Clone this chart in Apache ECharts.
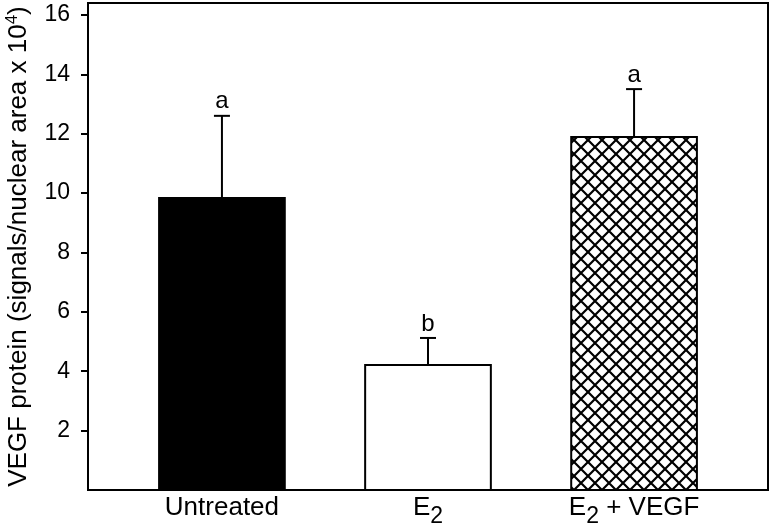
<!DOCTYPE html>
<html>
<head>
<meta charset="utf-8">
<script src="https://cdn.jsdelivr.net/npm/echarts@6/dist/echarts.min.js"></script>
<style>
  html, body { margin: 0; padding: 0; background: #fff; }
  #chart { width: 773px; height: 526px; }
</style>
</head>
<body>
<div id="chart"></div>
<script>
// data
var groups = ['Untreated', 'E2', 'E2 + VEGF'];
var groupPos = [1, 2, 3];
var means = [9.83, 4.21, 11.89];
var errors = [2.77, 0.91, 1.61];
var letters = ['a', 'b', 'a'];
var yTicks = [2, 4, 6, 8, 10, 12, 14, 16];

var font = 'Liberation Sans, Arial, sans-serif';
var barW = 0.61; // in x units

// crosshatch tile
var tile = document.createElement('canvas');
tile.width = 14;
tile.height = 14;
var tc = tile.getContext('2d');
tc.fillStyle = '#fff';
tc.fillRect(0, 0, 14, 14);
tc.strokeStyle = '#000';
tc.lineWidth = 2.2;
[-14, 0, 14].forEach(function (dx) {
    tc.beginPath();
    tc.moveTo(dx, 0); tc.lineTo(dx + 14, 14);
    tc.moveTo(dx + 14, 0); tc.lineTo(dx, 14);
    tc.stroke();
});

var fills = ['#000', '#fff', { image: tile, repeat: 'repeat' }];

var seriesData = groupPos.map(function (x, i) {
    return [x, means[i], errors[i], i];
});

var chart = echarts.init(document.getElementById('chart'));

var option = {
    animation: false,
    backgroundColor: '#fff',
    grid: {
        left: 88, right: 5, top: 3, bottom: 36,
        outerBoundsMode: 'none',
        show: true, borderColor: '#000', borderWidth: 2
    },
    xAxis: {
        type: 'value',
        min: 0.35,
        max: 3.65,
        axisLine: { lineStyle: { color: '#000', width: 2 } },
        axisTick: { show: false },
        splitLine: { show: false },
        axisLabel: {
            customValues: groupPos,
            margin: 3,
            formatter: function (v) {
                var i = groupPos.indexOf(v);
                if (i === 0) return '{n|Untreated}';
                if (i === 1) return '{n|E}{s|2}';
                if (i === 2) return '{n|E}{s|2}{n| + VEGF}';
                return '';
            },
            rich: {
                n: { fontFamily: font, fontSize: 26, color: '#000', lineHeight: 30 },
                s: { fontFamily: font, fontSize: 23, color: '#000', lineHeight: 30, verticalAlign: 'bottom', padding: [0, 0, -5, 0] }
            }
        }
    },
    yAxis: {
        type: 'value',
        min: 0,
        max: 16.4,
        interval: 2,
        name: 'VEGF protein (signals/nuclear area x 10{sup|4})',
        nameLocation: 'middle',
        nameGap: 32,
        nameTextStyle: {
            fontFamily: font, fontSize: 26, color: '#000',
            lineHeight: 30,
            rich: {
                sup: { fontFamily: font, fontSize: 17, color: '#000', verticalAlign: 'top', lineHeight: 30 }
            }
        },
        axisLine: { show: true, lineStyle: { color: '#000', width: 2 } },
        axisTick: { show: true, length: 7, customValues: yTicks, lineStyle: { color: '#000', width: 2 } },
        splitLine: { show: false },
        axisLabel: {
            customValues: yTicks,
            margin: 18,
            fontFamily: font, fontSize: 23, color: '#000'
        }
    },
    series: [{
        type: 'custom',
        data: seriesData,
        clip: false,
        renderItem: function (params, api) {
            var x = api.value(0), m = api.value(1), e = api.value(2), i = api.value(3);
            var p0 = api.coord([x - barW / 2, 0]);
            var p1 = api.coord([x + barW / 2, m]);
            var cx = api.coord([x, 0])[0];
            var top = api.coord([x, m + e])[1];
            return {
                type: 'group',
                children: [{
                    type: 'line',
                    shape: { x1: cx, y1: p1[1], x2: cx, y2: top },
                    style: { stroke: '#000', lineWidth: 2 }
                }, {
                    type: 'line',
                    shape: { x1: cx - 8, y1: top, x2: cx + 8, y2: top },
                    style: { stroke: '#000', lineWidth: 2 }
                }, {
                    type: 'rect',
                    shape: { x: p0[0], y: p1[1], width: p1[0] - p0[0], height: p0[1] - p1[1] },
                    style: { fill: fills[i], stroke: '#000', lineWidth: 2 }
                }, {
                    type: 'text',
                    style: {
                        text: letters[i], x: cx, y: top - 2,
                        align: 'center', verticalAlign: 'bottom',
                        fontFamily: font, fontSize: 24, fill: '#000'
                    }
                }]
            };
        }
    }]
};

chart.setOption(option);
</script>
</body>
</html>
